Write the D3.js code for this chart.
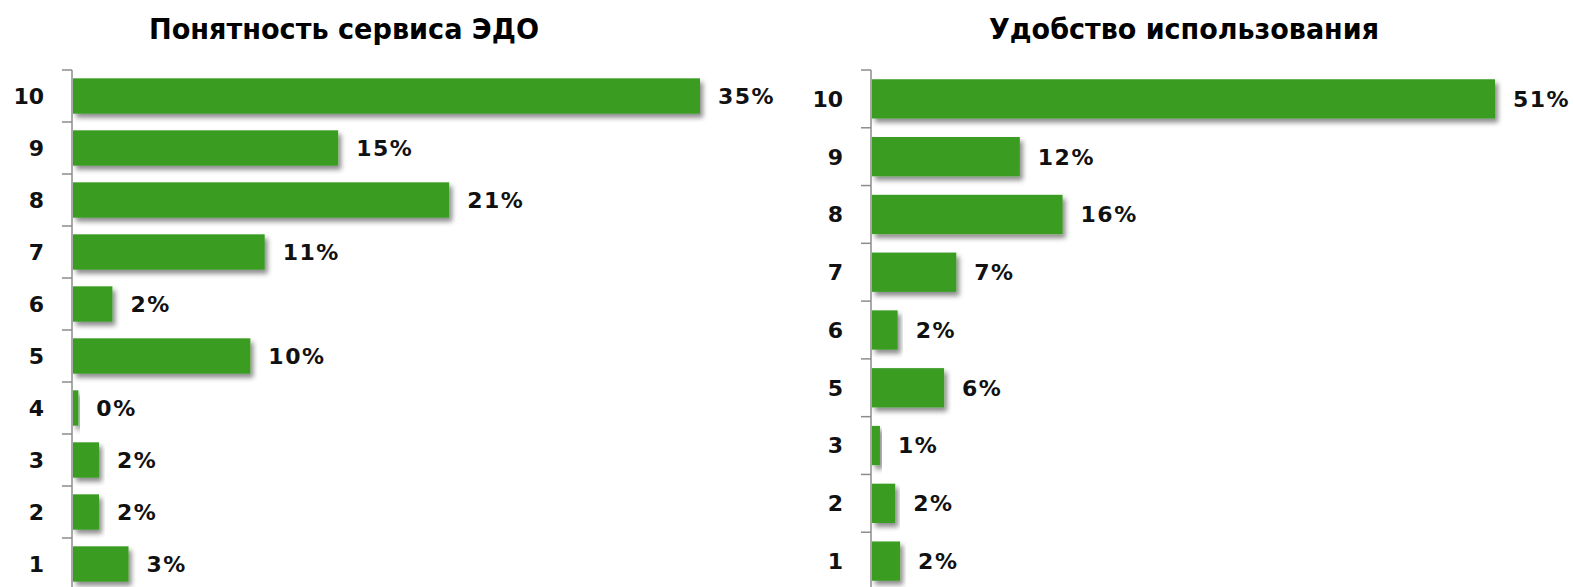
<!DOCTYPE html>
<html>
<head>
<meta charset="utf-8">
<script src="https://cdn.jsdelivr.net/npm/d3@7"></script>
<style>
    body { margin: 0; background: #ffffff; }
    svg { display: block; }
</style>
</head>
<body>
<div id="chart-container"></div>
<script>
// Left chart: "Понятность сервиса ЭДО"
var leftTitle = "Понятность сервиса ЭДО";
var leftCategories = ["10", "9", "8", "7", "6", "5", "4", "3", "2", "1"];
var leftValues = [35, 14.8, 21, 10.7, 2.2, 9.9, 0.3, 1.45, 1.45, 3.1];
var leftLabels = ["35%", "15%", "21%", "11%", "2%", "10%", "0%", "2%", "2%", "3%"];

// Right chart: "Удобство использования"
var rightTitle = "Удобство использования";
var rightCategories = ["10", "9", "8", "7", "6", "5", "3", "2", "1"];
var rightValues = [51, 12.1, 15.6, 6.9, 2.1, 5.9, 0.65, 1.9, 2.3];
var rightLabels = ["51%", "12%", "16%", "7%", "2%", "6%", "1%", "2%", "2%"];

var svg = d3.select("#chart-container")
    .append("svg")
    .attr("width", 1575)
    .attr("height", 587);

// Drop shadow for the bars
var filter = svg.append("defs")
    .append("filter")
    .attr("id", "bar-shadow")
    .attr("x", "-10%")
    .attr("y", "-20%")
    .attr("width", "130%")
    .attr("height", "160%");
filter.append("feDropShadow")
    .attr("dx", 3)
    .attr("dy", 4)
    .attr("stdDeviation", 2.5)
    .attr("flood-color", "#000")
    .attr("flood-opacity", 0.45);

drawPanel({
    title: leftTitle,
    titleX: 344,
    titleWidth: 390,
    categories: leftCategories,
    values: leftValues,
    labels: leftLabels,
    axisX: 72,
    maxX: 699,
    domainMax: 35
});

drawPanel({
    title: rightTitle,
    titleX: 1184,
    titleWidth: 390,
    categories: rightCategories,
    values: rightValues,
    labels: rightLabels,
    axisX: 871,
    maxX: 1494,
    domainMax: 51
});

function drawPanel(opts) {
    var top = 70,
        bottom = 590;

    var g = svg.append("g");

    // Title (condensed look: squeeze a larger font into the measured width)
    g.append("text")
        .attr("x", opts.titleX)
        .attr("y", 39)
        .attr("text-anchor", "middle")
        .attr("textLength", opts.titleWidth)
        .attr("lengthAdjust", "spacingAndGlyphs")
        .style("font-family", "'Liberation Sans Narrow', 'DejaVu Sans Condensed', 'Liberation Sans', sans-serif")
        .style("font-weight", "bold")
        .style("font-size", "29px")
        .style("fill", "#000")
        .text(opts.title);

    var data = opts.categories.map(function (c, i) {
        return { name: c, value: opts.values[i], label: opts.labels[i] };
    });

    var x = d3.scaleLinear()
        .domain([0, opts.domainMax])
        .range([opts.axisX, opts.maxX]);

    var y = d3.scaleBand()
        .domain(opts.categories)
        .range([top, bottom])
        .paddingInner(0.32)
        .paddingOuter(0.16);

    var step = y.step();

    // Bars
    g.selectAll(".bar")
        .data(data)
        .enter()
        .append("rect")
        .attr("class", "bar")
        .attr("x", x(0) + 1)
        .attr("y", function (d) { return y(d.name); })
        .attr("width", function (d) { return Math.max(x(d.value) - x(0), 1); })
        .attr("height", y.bandwidth())
        .attr("fill", "#3a9c23")
        .attr("filter", "url(#bar-shadow)");

    // Value labels
    g.selectAll(".value-label")
        .data(data)
        .enter()
        .append("text")
        .attr("class", "value-label")
        .attr("x", function (d) { return x(d.value) + 19; })
        .attr("y", function (d) { return y(d.name) + y.bandwidth() / 2; })
        .attr("dy", "0.36em")
        .style("font-family", "'DejaVu Sans', Verdana, sans-serif")
        .style("font-weight", "bold")
        .style("font-size", "22px")
        .style("letter-spacing", "1.5px")
        .style("fill", "#111")
        .text(function (d) { return d.label; });

    // Y axis: line, ticks at band boundaries, category labels
    var axis = g.append("g");
    axis.append("line")
        .attr("x1", opts.axisX)
        .attr("x2", opts.axisX)
        .attr("y1", top)
        .attr("y2", bottom)
        .attr("stroke", "#8c8c8c")
        .attr("stroke-width", 1.5);

    var tickPos = d3.range(opts.categories.length + 1).map(function (i) {
        return top + i * step;
    });
    axis.selectAll(".tick-mark")
        .data(tickPos)
        .enter()
        .append("line")
        .attr("class", "tick-mark")
        .attr("x1", opts.axisX - 10)
        .attr("x2", opts.axisX)
        .attr("y1", function (d) { return d; })
        .attr("y2", function (d) { return d; })
        .attr("stroke", "#8c8c8c")
        .attr("stroke-width", 1.5);

    axis.selectAll(".cat-label")
        .data(data)
        .enter()
        .append("text")
        .attr("class", "cat-label")
        .attr("x", opts.axisX - 28)
        .attr("y", function (d) { return y(d.name) + y.bandwidth() / 2; })
        .attr("dy", "0.36em")
        .attr("text-anchor", "end")
        .style("font-family", "'DejaVu Sans', Verdana, sans-serif")
        .style("font-weight", "bold")
        .style("font-size", "22px")
        .style("fill", "#111")
        .text(function (d) { return d.name; });
}
</script>
</body>
</html>
